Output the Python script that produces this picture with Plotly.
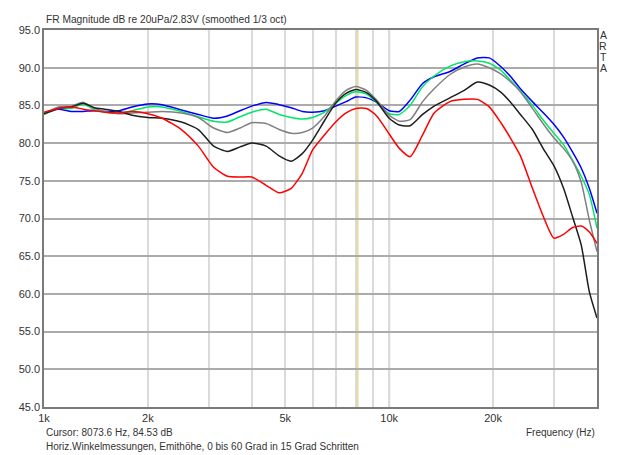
import plotly.graph_objects as go

# Frequency grid (Hz)
freq = [1000, 1100, 1200, 1300, 1400, 1500, 1650, 1800, 2000, 2200, 2500, 2800,
        3100, 3400, 3700, 4000, 4400, 4800, 5200, 5600, 6000, 6500, 7000, 7500,
        8000, 8600, 9200, 10000, 10700, 11500, 12500, 13500, 15000, 16500, 18000,
        19500, 21000, 22500, 24000, 26000, 28000, 30000, 32000, 34000, 36000,
        38000, 40000]

# Magnitude (dB) per angle
deg0 = [83.9, 84.5, 84.2, 84.2, 84.3, 84.2, 84.3, 84.8, 85.2, 85.1, 84.4, 83.8,
        83.3, 83.6, 84.3, 84.9, 85.4, 85.1, 84.7, 84.2, 84.1, 84.3, 84.9, 85.5,
        86.1, 86.0, 85.4, 84.3, 84.2, 85.7, 87.9, 88.8, 89.5, 90.5, 91.3,
        91.3, 90.2, 88.8, 87.2, 85.5, 84.0, 82.5, 80.8, 78.8, 76.7, 74.0, 70.7]
deg15 = [83.8, 84.6, 84.6, 85.2, 84.4, 84.1, 84.0, 84.3, 84.8, 84.8, 84.2, 83.5,
         82.9, 82.8, 83.5, 84.1, 84.5, 83.8, 83.4, 83.2, 83.4, 84.1, 85.3, 86.3,
         86.8, 86.5, 85.4, 83.9, 83.8, 85.0, 87.5, 88.9, 90.2, 90.8, 90.9,
         90.6, 89.7, 88.3, 86.9, 85.0, 83.0, 81.3, 79.8, 77.7, 75.6, 73.2, 68.7]
deg30 = [83.9, 84.8, 84.9, 85.4, 84.6, 84.2, 83.9, 84.0, 84.1, 84.2, 84.0, 83.4,
         82.0, 81.4, 82.0, 82.7, 82.6, 81.8, 81.3, 81.4, 82.0, 83.6, 85.6, 87.0,
         87.5, 87.0, 85.7, 83.7, 82.9, 83.1, 85.5, 87.2, 89.1, 90.1, 90.5,
         90.0, 89.2, 88.1, 86.8, 84.6, 82.5, 80.7, 79.3, 77.6, 74.8, 69.8, 65.6]
deg45 = [83.9, 84.6, 84.8, 85.3, 84.7, 84.5, 84.2, 83.7, 83.4, 83.3, 82.8, 81.8,
         79.6, 78.9, 79.5, 80.0, 79.6, 78.3, 77.6, 78.6, 80.4, 83.0, 85.3, 86.6,
         87.1, 86.7, 85.5, 83.3, 82.4, 82.3, 83.8, 84.9, 86.0, 87.0, 88.1,
         87.7, 86.8, 85.4, 83.8, 81.8, 79.2, 77.0, 74.0, 70.2, 66.5, 60.3, 56.8]
deg60 = [84.1, 84.6, 84.8, 84.5, 84.3, 84.1, 84.0, 84.2, 83.9, 83.3, 81.8, 79.6,
         76.8, 75.6, 75.5, 75.5, 74.4, 73.4, 74.0, 76.0, 79.1, 81.1, 82.8, 84.0,
         84.6, 84.6, 83.6, 81.2, 79.3, 78.2, 81.1, 84.0, 85.5, 85.8, 85.8,
         84.8, 82.8, 80.6, 78.3, 74.0, 70.2, 67.4, 67.9, 68.8, 69.0, 68.2, 66.7]

series = [("0", deg0, "#0000ff"), ("15", deg15, "#00e668"), ("30", deg30, "#808080"),
          ("45", deg45, "#1e1e1e"), ("60", deg60, "#ff0000")]

grid_freqs = [1000, 2000, 3000, 4000, 5000, 6000, 7000, 8000, 9000, 10000, 20000, 30000]
grid_text = ["1k", "2k", "", "", "5k", "", "", "", "", "10k", "20k", ""]

cursor_freq = 8073.6

fig = go.Figure()
for name, vals, col in series:
    fig.add_trace(go.Scatter(x=freq, y=vals, mode="lines", name=name,
                             line=dict(color=col, width=1.5, shape="spline", smoothing=0.6),
                             showlegend=False, hoverinfo="skip"))

# 10k darker grid line and cursor line
fig.add_shape(type="line", xref="x", yref="paper", x0=10000, x1=10000, y0=0, y1=1,
              line=dict(color="#bdbdbd", width=2), layer="below")
fig.add_shape(type="line", xref="x", yref="paper", x0=cursor_freq, x1=cursor_freq, y0=0, y1=1,
              line=dict(color="#e6df92", width=3), layer="below")

# page body has an 8px margin; size the figure so the plot area lands at 44..597 x 30..407
OFF = 8
W, H = 640 - OFF, 455 - OFF
L, T = 44 - OFF, 30 - OFF
pw, ph = 553, 377
R = W - L - pw
B = H - T - ph

def px(x):
    return (x - 44) / pw

def py(y):
    return (407 - y) / ph

font = "Liberation Sans, Arial, sans-serif"
tc = "#333333"

fig.update_layout(
    width=W, height=H,
    margin=dict(l=L, r=R, t=T, b=B, autoexpand=False),
    paper_bgcolor="white", plot_bgcolor="white",
    font=dict(family=font, size=11, color=tc),
    xaxis=dict(type="log", range=[3, 4.60206], tickvals=grid_freqs, ticktext=grid_text,
               showgrid=True, gridcolor="#dadada", gridwidth=2,
               showline=True, linecolor="#7a7a7a", linewidth=1.5, mirror=True,
               ticks="", zeroline=False, tickfont=dict(size=11, color=tc)),
    yaxis=dict(range=[45, 95], dtick=5, tick0=45, tickformat=".1f",
               showgrid=True, gridcolor="#ababab", gridwidth=1.5,
               showline=True, linecolor="#7a7a7a", linewidth=1.5, mirror=True,
               ticks="", zeroline=False, tickfont=dict(size=11, color=tc)),
)

ann = []
ann.append(dict(x=px(44), y=py(20), xref="paper", yref="paper", xanchor="left", yanchor="middle",
                text="FR Magnitude dB re 20uPa/2.83V (smoothed 1/3 oct)", showarrow=False,
                font=dict(size=10.2, color=tc)))
for i, ch in enumerate("ARTA"):
    ann.append(dict(x=px(603), y=py(35 + 11 * i), xref="paper", yref="paper",
                    xanchor="center", yanchor="middle", text=ch, showarrow=False,
                    font=dict(size=10.5, color=tc)))
ann.append(dict(x=px(44), y=py(432), xref="paper", yref="paper", xanchor="left", yanchor="middle",
                text="Cursor: 8073.6 Hz, 84.53 dB", showarrow=False, font=dict(size=10, color=tc)))
ann.append(dict(x=px(44), y=py(446), xref="paper", yref="paper", xanchor="left", yanchor="middle",
                text="Horiz.Winkelmessungen, Emithöhe, 0 bis 60 Grad in 15 Grad Schritten",
                showarrow=False, font=dict(size=10, color=tc)))
ann.append(dict(x=px(597), y=py(432), xref="paper", yref="paper", xanchor="right", yanchor="middle",
                text="Frequency (Hz)", showarrow=False, font=dict(size=10, color=tc)))
fig.update_layout(annotations=ann)

fig.write_html("out.html")
